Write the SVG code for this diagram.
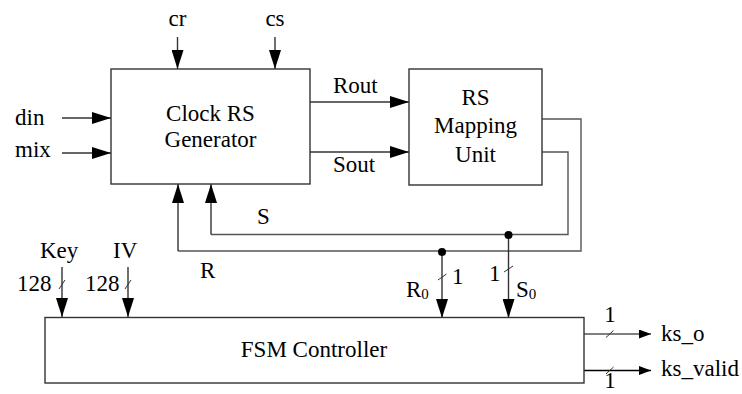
<svg xmlns="http://www.w3.org/2000/svg" width="742" height="394" viewBox="0 0 742 394">
<defs>
<marker id="ah" viewBox="0 0 19 12" refX="19" refY="6" markerWidth="19" markerHeight="12" markerUnits="userSpaceOnUse" orient="auto">
<path d="M0,0 L19,6 L0,12 z" fill="#000"/>
</marker>
<marker id="ahs" viewBox="0 0 12 9" refX="12" refY="4.5" markerWidth="12" markerHeight="9" markerUnits="userSpaceOnUse" orient="auto">
<path d="M0,0 L12,4.5 L0,9 z" fill="#000"/>
</marker>
<style>
text{font-size:23px;fill:#000}
.mid{text-anchor:middle}
.sub{font-size:15px}
.box{fill:#fff;stroke:#333;stroke-width:1.4}
.w{fill:none;stroke:#555;stroke-width:1.4}
.a{fill:none;stroke:#333;stroke-width:1.4;marker-end:url(#ah)}
.as{fill:none;stroke:#555;stroke-width:1.4;marker-end:url(#ahs)}
.sl{stroke:#333;stroke-width:1}
.dot{fill:#000}
</style>
</defs>
<rect width="742" height="394" fill="#fff"/>

<g id="connectors">
<path class="a" d="M177.5,37 V69"/>
<path class="a" d="M275,37 V69"/>
<path class="a" d="M62,118 H111"/>
<path class="a" d="M62,153 H111"/>
<path class="a" d="M310,102 H409"/>
<path class="a" d="M310,152 H409"/>
<path class="w" d="M542,119 H581 V251 H178"/>
<path class="a" d="M178,251 V184"/>
<path class="w" d="M542,152 H568 V234.5 H211"/>
<path class="a" d="M211,234.5 V184"/>
<path class="a" d="M442,252 V318"/>
<path class="a" d="M508.5,235 V318"/>
<circle class="dot" cx="442" cy="252" r="4"/>
<circle class="dot" cx="508.5" cy="235" r="4"/>
<line class="sl" x1="438" y1="280" x2="446.5" y2="274"/>
<line class="sl" x1="504" y1="272" x2="513" y2="266"/>
<path class="a" d="M62,267 V317"/>
<path class="a" d="M128,267 V317"/>
<line class="sl" x1="59" y1="289" x2="65" y2="280"/>
<line class="sl" x1="125" y1="289" x2="131" y2="280"/>
<path class="as" d="M584,334 H651"/>
<path class="as" d="M584,370.5 H651" style="stroke:#000"/>
<line class="sl" x1="606" y1="337.5" x2="613.5" y2="330.5"/>
<line class="sl" x1="606" y1="374" x2="613.5" y2="367"/>
</g>

<g font-family="Liberation Serif, Tinos, Times New Roman, Noto Serif, DejaVu Serif, serif">
<g id="clock-rs-generator">
<rect class="box" x="111" y="69" width="199" height="115"/>
<text class="mid" x="210.5" y="121">Clock RS</text>
<text class="mid" x="210.5" y="147">Generator</text>
</g>

<g id="rs-mapping-unit">
<rect class="box" x="409" y="69" width="133" height="116"/>
<text class="mid" x="475.5" y="105">RS</text>
<text class="mid" x="475.5" y="133">Mapping</text>
<text class="mid" x="475.5" y="162">Unit</text>
</g>

<g id="fsm-controller">
<rect class="box" x="45" y="317.5" width="539" height="65.5"/>
<text class="mid" x="314" y="357">FSM Controller</text>
</g>

<g id="labels">
<text class="mid" x="177.5" y="26">cr</text>
<text class="mid" x="275" y="26">cs</text>
<text x="15" y="125">din</text>
<text x="15" y="157">mix</text>
<text x="333" y="93">Rout</text>
<text x="333" y="172">Sout</text>
<text x="257" y="224">S</text>
<text x="200" y="278">R</text>
<text x="40" y="258">Key</text>
<text x="113" y="258">IV</text>
<text x="17" y="291">128</text>
<text x="85" y="291">128</text>
<text x="406" y="297">R<tspan class="sub" dy="2">0</tspan></text>
<text x="452" y="284">1</text>
<text x="489" y="281">1</text>
<text x="516" y="297">S<tspan class="sub" dy="2">0</tspan></text>
<text class="mid" x="610" y="322">1</text>
<text x="661" y="341">ks_o</text>
<text x="661" y="376">ks_valid</text>
<text class="mid" x="610" y="388">1</text>
</g>
</g>
</svg>
